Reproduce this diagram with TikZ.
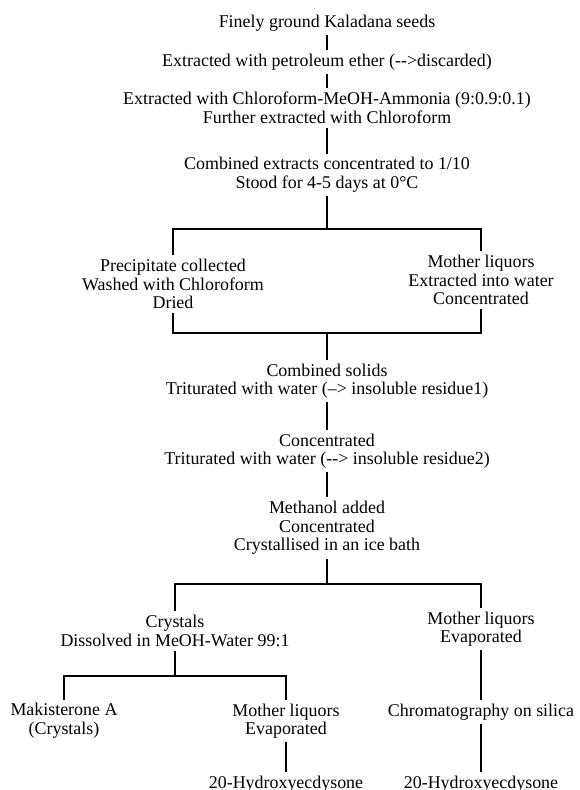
\documentclass[tikz,border=0pt]{standalone}
\usepackage{fontspec}
\setmainfont{Liberation Serif}
\usetikzlibrary{positioning}

\begin{document}
\begin{tikzpicture}[x=0.02cm, y=-0.02cm,
    proc/.style={align=center, inner xsep=0pt, inner ysep=2pt, font=\fontsize{10.2}{10.6}\selectfont},
    link/.style={line width=0.9pt}
]
\useasboundingbox (0,0) rectangle (580,790);

% main column
\node[proc] (seeds)  at (327,23)  {Finely ground Kaladana seeds};
\node[proc] (pet)    at (327,62)  {Extracted with petroleum ether (-{}->discarded)};
\node[proc] (chl)    at (327,108) {Extracted with Chloroform-MeOH-Ammonia (9:0.9:0.1)\\Further extracted with Chloroform};
\node[proc] (comb)   at (327,175) {Combined extracts concentrated to 1/10\\Stood for 4-5 days at 0°C};
\node[proc] (prec)   at (173,284) {Precipitate collected\\Washed with Chloroform\\Dried};
\node[proc] (mlq1)   at (481,280) {Mother liquors\\Extracted into water\\Concentrated};
\node[proc] (solids) at (327,381) {Combined solids\\Triturated with water (--> insoluble residue1)};
\node[proc] (conc)   at (327,451) {Concentrated\\Triturated with water (-{}-> insoluble residue2)};
\node[proc] (meth)   at (327,528) {Methanol added\\Concentrated\\Crystallised in an ice bath};

% lower part
\node[proc] (cryst)  at (175,631) {Crystals\\Dissolved in MeOH-Water 99:1};
\node[proc] (mlq2)   at (481,629) {Mother liquors\\Evaporated};
\node[proc] (mak)    at (64,721)  {Makisterone A\\(Crystals)};
\node[proc] (mlq3)   at (286,721) {Mother liquors\\Evaporated};
\node[proc] (chrom)  at (481,712) {Chromatography on silica};
\node[proc, anchor=base] (hyd1) at (286,788) {20-Hydroxyecdysone};
\node[proc, anchor=base] (hyd2) at (481,788) {20-Hydroxyecdysone};

\coordinate (s1) at (327,229);
\coordinate (j1) at (327,333);
\coordinate (s2) at (327,584);
\coordinate (s3) at (175,676);

\draw[link] (seeds.south) -- (pet.north);
\draw[link] (pet.south) -- (chl.north);
\draw[link] (chl.south) -- (comb.north);
\draw[link] (comb.south) -- (s1);
\draw[link] (prec.north) -- (prec.north |- s1) -- (mlq1.north |- s1) -- (mlq1.north);
\draw[link] (prec.south) -- (prec.south |- j1) -- (mlq1.south |- j1) -- (mlq1.south);
\draw[link] (j1) -- (solids.north);
\draw[link] (solids.south) -- (conc.north);
\draw[link] (conc.south) -- (meth.north);
\draw[link] (meth.south) -- (s2);
\draw[link] (cryst.north) -- (cryst.north |- s2) -- (mlq2.north |- s2) -- (mlq2.north);
\draw[link] (cryst.south) -- (s3);
\draw[link] (mak.north) -- (mak.north |- s3) -- (mlq3.north |- s3) -- (mlq3.north);
\draw[link] (mlq3.south) -- (hyd1.north);
\draw[link] (mlq2.south) -- (chrom.north);
\draw[link] (chrom.south) -- (hyd2.north);
\end{tikzpicture}
\end{document}
